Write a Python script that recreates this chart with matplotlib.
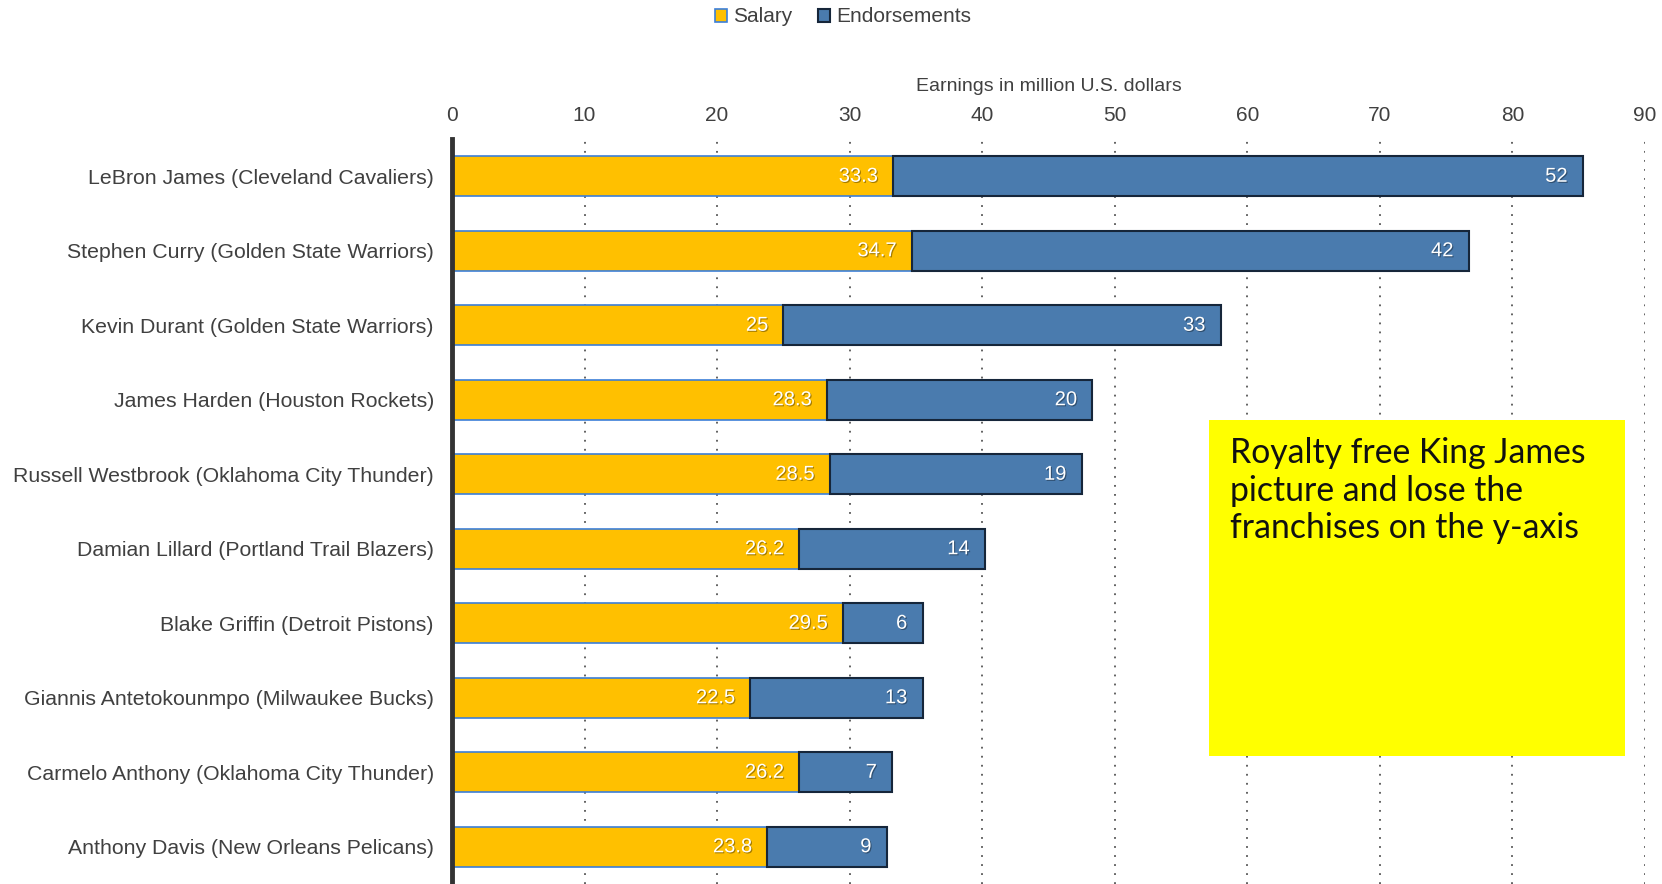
import matplotlib
matplotlib.use("Agg")
import matplotlib.pyplot as plt
import matplotlib.patheffects as pe
import numpy as np

players = [
    "LeBron James (Cleveland Cavaliers)",
    "Stephen Curry (Golden State Warriors)",
    "Kevin Durant (Golden State Warriors)",
    "James Harden (Houston Rockets)",
    "Russell Westbrook (Oklahoma City Thunder)",
    "Damian Lillard (Portland Trail Blazers)",
    "Blake Griffin (Detroit Pistons)",
    "Giannis Antetokounmpo (Milwaukee Bucks)",
    "Carmelo Anthony (Oklahoma City Thunder)",
    "Anthony Davis (New Orleans Pelicans)",
]
salary = [33.3, 34.7, 25, 28.3, 28.5, 26.2, 29.5, 22.5, 26.2, 23.8]
endorsements = [52, 42, 33, 20, 19, 14, 6, 13, 7, 9]
xticks = [0, 10, 20, 30, 40, 50, 60, 70, 80, 90]

plt.rcParams['font.family'] = ['Liberation Sans', 'DejaVu Sans']
TXT = '#404040'

fig = plt.figure(figsize=(16.62, 8.84), dpi=100)
ax = fig.add_axes([452/1662, 0.0, (1645-452)/1662, 1 - 139/884])

y = np.arange(len(players))
h = 0.54
sal_col = '#FFC000'
end_col = '#4A7BAE'

b1 = ax.barh(y, salary, height=h, color=sal_col, edgecolor='#3C7FD8', linewidth=1.2, zorder=3, label='Salary')
b2 = ax.barh(y, endorsements, left=salary, height=h, color=end_col, edgecolor='#16263A', linewidth=1.5, zorder=3, label='Endorsements')

shadow = [pe.SimplePatchShadow(offset=(0.8, -0.8), shadow_rgbFace='black', alpha=0.35), pe.Normal()]
for i in range(len(players)):
    ax.annotate(f"{salary[i]:g}", xy=(salary[i], y[i]), xytext=(-11, 0), textcoords='offset points',
                ha='right', va='center', color='white', fontsize=14.5, zorder=5, path_effects=shadow)
    tot = salary[i] + endorsements[i]
    ax.annotate(f"{endorsements[i]:g}", xy=(tot, y[i]), xytext=(-11, 0), textcoords='offset points',
                ha='right', va='center', color='white', fontsize=14.5, zorder=5, path_effects=shadow)

ax.set_xlim(0, 90)
ax.set_ylim(len(players) - 0.5, -0.5)
ax.set_xticks(xticks)
ax.xaxis.tick_top()
ax.xaxis.set_label_position('top')
ax.set_xlabel("Earnings in million U.S. dollars", fontsize=14, color=TXT, labelpad=11)
ax.tick_params(axis='x', length=0, labelsize=15, labelcolor=TXT, pad=10)
ax.set_yticks(y)
ax.set_yticklabels(players)
ax.tick_params(axis='y', length=0, labelsize=15.3, labelcolor=TXT, pad=13)

for s in ['top', 'right', 'bottom']:
    ax.spines[s].set_visible(False)
ax.spines['left'].set_color('#333333')
ax.spines['left'].set_linewidth(3.5)
ax.spines['left'].set_zorder(6)

for xv in xticks[1:]:
    ax.axvline(xv, color='#555555', linestyle=(0, (1, 4)), linewidth=1.3, zorder=1)

fig.legend(handles=[b1, b2], labels=['Salary', 'Endorsements'], loc='center', bbox_to_anchor=(843/1662, 1 - 17/884),
           ncol=2, frameon=False, fontsize=15, labelcolor=TXT, handlelength=0.6, handleheight=0.6,
           handletextpad=0.3, columnspacing=1.2)

# annotation box
bx0, bx1, by0, by1 = 1209, 1625, 420, 756
fig.patches.append(plt.Rectangle((bx0/1662, 1 - by1/884), (bx1-bx0)/1662, (by1-by0)/884,
                                 transform=fig.transFigure, facecolor='#FFFF00', edgecolor='none', zorder=10))
fig.text(1230/1662, 1 - 437/884, "Royalty free King James\npicture and lose the\nfranchises on the y-axis",
         fontsize=24.3, family=['Lato', 'DejaVu Sans'], color='#111111', va='top', ha='left',
         linespacing=1.22, zorder=11)

fig.savefig("out.png", dpi=100)
